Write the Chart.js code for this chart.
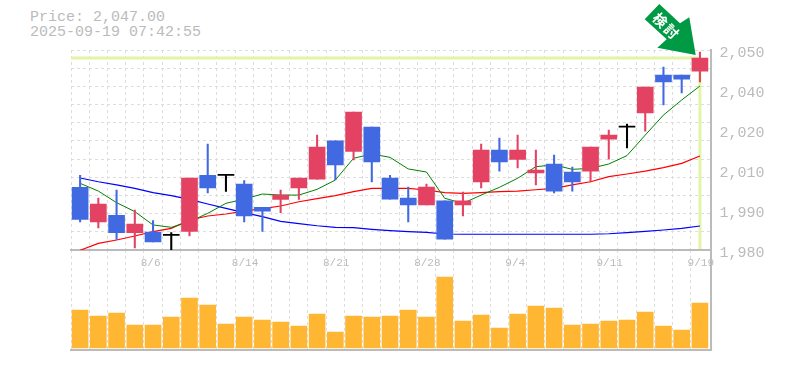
<!DOCTYPE html>
<html>
<head>
<meta charset="utf-8">
<script src="https://cdn.jsdelivr.net/npm/chart.js@4"></script>
<style>
  html, body { margin: 0; padding: 0; background: #fff; overflow: hidden; }
  #wrap { position: relative; width: 785px; height: 370px; }
  canvas, svg, #info { position: absolute; left: 0; }
  #priceChart { top: 0; z-index: 2; }
  #volumeChart { top: 250px; z-index: 1; }
  #info { top: 10px; left: 30px; color: #bbb; font: 15px/15px "Liberation Mono", monospace; white-space: pre; }
  svg { top: 0; z-index: 3; }
</style>
</head>
<body>
<div id="wrap">
  <canvas id="priceChart" width="785" height="275"></canvas>
  <canvas id="volumeChart" width="785" height="120"></canvas>
  <div id="info">Price: 2,047.00
2025-09-19 07:42:55</div>
  <svg width="785" height="370">
    <polygon points="659.3,4 680,23.3 689.3,17.3 695.7,55 657.3,47.7 666.7,39.3 644.7,19.3" fill="#009944"></polygon>
    <text transform="translate(667,26) rotate(45)" text-anchor="middle" dominant-baseline="central" fill="#fff"
      font-family="Noto Sans CJK JP" font-weight="700" font-size="14" letter-spacing="2">検討</text>
  </svg>
</div>
<script>
const opens  = [1998.5,1985.5,1988,1981.5,1981.75,1980.5,1982,2003,2003,1999.75,1991,1994,1998.25,2001.6,2015.9,2012,2021.1,2002,1994.5,1991.9,1993.4,1991.9,2000.5,2012.5,2009,2003.9,2007.25,2004.25,2004.6,2016.6,2021.1,2026.4,2040.6,2040.6,2042.1];
const highs  = [2003,1994.5,1997.5,1990,1986,1981.5,2002,2014.75,2003.4,2001,1991,1997.5,2002,2018.1,2015.9,2026.75,2021.1,2003,1998.6,1999.75,1993.4,1996.75,2014.75,2017,2018.1,2012.5,2010.6,2006.1,2013.6,2020,2022.25,2036.1,2043.6,2040.6,2049.25];
const lows   = [1985.5,1983.25,1979,1975.75,1978,1975,1980.25,1996.4,1997,1985.5,1982,1989,1994,2001.6,2001.25,2008.75,2000.5,1994.1,1985.5,1991.9,1979.1,1987.75,1998.25,2004.6,2005.75,1999.4,1996.4,1997.1,2000.5,2009.1,2013.25,2019.6,2029.4,2033.9,2038];
const closes = [1986.5,1992.25,1981.5,1984.75,1978,1980.9,2002,1998.25,2003.4,1987.75,1989.6,1995.6,2002,2013.6,2006.9,2026.75,2008,1994.1,1991.9,1998.6,1979.1,1993.4,2012.5,2008,2012.5,2005,1997.1,2000.5,2013.6,2018.1,2021.5,2036.1,2038,2039.1,2047];
const maShort = [2000,1997.1,1992.75,1989.4,1984.4,1983.5,1985.6,1988.75,1992.5,1994.1,1996,1995.6,1995.6,1997.75,2001.25,2009.4,2011,2009.75,2005.4,2004.25,1994.4,1992.5,1995.6,1998.5,2001.9,2006.25,2006.9,2005.25,2005.6,2007.25,2010.4,2018.1,2025.6,2031.25,2036.5];
const maMid   = [1974.9,1977.5,1978.75,1980.25,1981.9,1983.1,1986.25,1987.75,1988.5,1989.6,1990.5,1991.5,1993.1,1994.25,1995.4,1996.9,1998.1,1998.1,1998.1,1997.5,1996.5,1996.25,1996.5,1996.9,1997.1,1997.6,1998.1,1999.4,2000.6,2002.5,2003.5,2004.6,2005.9,2007.5,2010.25];
const maLong  = [2002,2000.6,1999.4,1998.1,1996.5,1995.4,1994,1992.25,1990.6,1989,1987.5,1985.75,1984.9,1984.1,1983.5,1983.4,1982.75,1982.25,1981.9,1981.6,1981,1980.9,1980.9,1980.9,1980.9,1980.9,1980.9,1980.9,1980.9,1981.1,1981.5,1982,1982.5,1983.1,1984];
const volumes = [38,32,35,23,23,31,50,43,24,31,28,26,22,34,16,32,31,32,38,31,71,27,33,20,34,42,40,23,24,27,28,36,22,18,45];
const dateLabels = ['8/6','8/14','8/21','8/28','9/4','9/11','9/19'];
const dateLabelBars = [4,9,14,19,24,29,34];
const priceLabels = ['1,980','1,990','2,010','2,020','2,040','2,050'];
const lastPrice = 2047;

const RED = '#E34262', BLUE = '#4169E1', BLACK = '#000', GREY = '#bbb', GRID = '#ddd', HILITE = '#E2F4A8';
const MONO = '"Liberation Mono", monospace';
const xMax = 35.08;

function candleColor(i) {
  if (Math.abs(closes[i] - opens[i]) < 1) return BLACK;
  return closes[i] > opens[i] ? RED : BLUE;
}

const colors = closes.map((c, i) => candleColor(i));
const atBar = (arr) => arr.map((v, i) => ({ x: i + 0.5, y: v }));

function lineSet(data, color, width, order) {
  return { type: 'line', data, borderColor: color, borderWidth: width, pointRadius: 0, tension: 0, order };
}

new Chart(document.getElementById('priceChart'), {
  data: {
    datasets: [
      {
        type: 'bar', order: 1, barThickness: 16, grouped: false, backgroundColor: colors,
        data: closes.map((c, i) => ({ x: i + 0.5, y: [opens[i], c] }))
      },
      {
        type: 'bar', order: 2, barThickness: 1.4, grouped: false, backgroundColor: colors,
        data: highs.map((h, i) => ({ x: i + 0.5, y: [lows[i], h] }))
      },
      lineSet(atBar(maShort), '#008000', 1, 3),
      lineSet(atBar(maMid), '#FF0000', 1.2, 4),
      lineSet(atBar(maLong), '#0000FF', 1.2, 5),
      lineSet([{ x: 0, y: lastPrice }, { x: 34.5, y: lastPrice }], HILITE, 3, 6),
      lineSet([{ x: 34.5, y: lastPrice }, { x: 34.5, y: 1975.4 }], HILITE, 3, 6)
    ]
  },
  options: {
    responsive: false,
    animation: false,
    events: [],
    layout: { padding: { left: 71, top: 50 } },
    plugins: { legend: { display: false }, tooltip: { enabled: false } },
    scales: {
      x: {
        type: 'linear', min: 0, max: xMax, offset: false,
        afterFit: (s) => { s.height = 25; },
        // tick marks stay invisible, they only push the labels down
        grid: { color: GRID, offset: false, tickColor: 'transparent', tickLength: 6 },
        border: { color: GREY, width: 2, dash: [3, 3] },
        ticks: {
          stepSize: 1, autoSkip: false, maxRotation: 0, padding: 0, labelOffset: 10,
          color: GREY, font: { family: MONO, size: 11 },
          callback: (v) => {
            const k = dateLabelBars.indexOf(v);
            return k < 0 ? '' : dateLabels[k].padEnd(4);
          }
        }
      },
      y: {
        position: 'left', min: 1975, max: 2050,
        afterFit: (s) => { s.width = 0; },
        grid: { color: GRID, drawTicks: false },
        border: { display: false, dash: [3, 3] },
        ticks: { display: false, count: 12 }
      },
      y2: {
        position: 'right', min: 1975, max: 2050,
        afterFit: (s) => { s.width = 74.5; },
        grid: { display: false, drawTicks: false },
        border: { color: GREY, width: 2 },
        ticks: {
          stepSize: 15, padding: 9, labelOffset: 3, color: GREY, font: { family: MONO, size: 15 },
          callback: (v, i) => priceLabels[i]
        }
      }
    }
  }
});

new Chart(document.getElementById('volumeChart'), {
  type: 'bar',
  data: {
    datasets: [{
      backgroundColor: '#FFB733', barThickness: 16,
      data: atBar(volumes)
    }]
  },
  options: {
    responsive: false,
    animation: false,
    events: [],
    layout: { padding: { left: 71 } },
    plugins: { legend: { display: false }, tooltip: { enabled: false } },
    scales: {
      x: {
        type: 'linear', min: 0, max: xMax, offset: false,
        afterFit: (s) => { s.height = 20; },
        grid: { color: GRID, offset: false, drawTicks: false },
        border: { color: GREY, width: 2, dash: [3, 3] },
        ticks: { stepSize: 1, display: false }
      },
      y: {
        position: 'right', min: -2, max: 98,
        afterFit: (s) => { s.width = 74.5; },
        grid: { display: false, drawTicks: false },
        border: { color: GREY, width: 2 },
        ticks: { display: false }
      }
    }
  }
});
</script>
</body>
</html>
